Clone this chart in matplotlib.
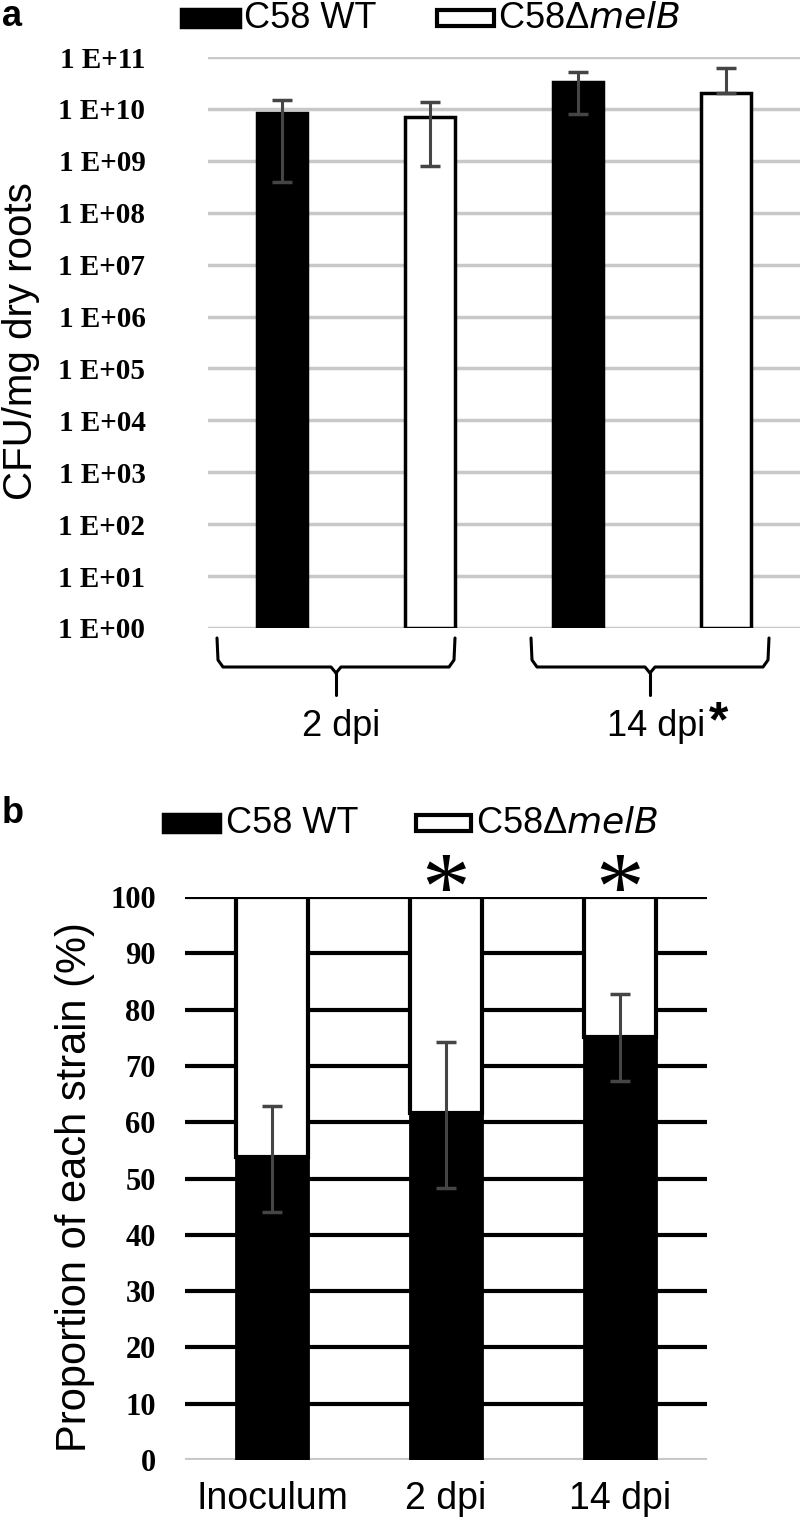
import matplotlib
matplotlib.use('Agg')
import matplotlib.pyplot as plt
import numpy as np
from matplotlib.patches import Rectangle

# panel a: CFU per mg dry roots (log scale)
a_labels = ['C58 WT', 'C58ΔmelB', 'C58 WT', 'C58ΔmelB']
a_values = [8.3e9, 6.9e9, 3.3e10, 2.0e10]
a_err_hi = [1.5e10, 1.35e10, 5.1e10, 6.2e10]
a_err_lo = [3.9e8, 7.9e8, 7.9e9, 2.0e10]
a_groups = ['2 dpi', '14 dpi']
a_yticks = [10.0 ** k for k in range(12)]
a_yticklabels = ['1 E+%02d' % k for k in range(12)]

# panel b: proportion of each strain (%)
b_cats = ['Inoculum', '2 dpi', '14 dpi']
b_wt = [53.8, 61.7, 75.2]
b_err_hi = [62.8, 74.3, 82.8]
b_err_lo = [44.1, 48.4, 67.4]
b_yticks = list(range(0, 101, 10))

W, H = 800, 1526
fig = plt.figure(figsize=(W / 100, H / 100), dpi=100)

SANS = 'Liberation Sans'
SERIF = 'Liberation Serif'


def fx(px):
    return px / W


def fy(py):
    return 1 - py / H


# ---------------- panel a ----------------
ax1 = fig.add_axes([fx(208), fy(628), fx(800 - 208), (628 - 57) / H])
ax1.set_yscale('log')
ax1.set_ylim(1, 1e11)
ax1.set_xlim(-0.5, 3.5)
x = np.arange(len(a_values))
bw = 0.34
for i in range(len(a_values)):
    fc = 'black' if i % 2 == 0 else 'white'
    ax1.bar(x[i], a_values[i], width=bw, bottom=1, color=fc,
            edgecolor='black', linewidth=2.5, zorder=3)
lo = np.array(a_values) - np.array(a_err_lo)
hi = np.array(a_err_hi) - np.array(a_values)
ax1.errorbar(x, a_values, yerr=[lo, hi], fmt='none', ecolor='#454545',
             elinewidth=2.2, capsize=7, capthick=2.5, zorder=4)
ax1.set_yticks(a_yticks)
ax1.set_yticklabels(a_yticklabels, fontfamily=SERIF, fontweight='bold', fontsize=21)
ax1.yaxis.set_minor_locator(matplotlib.ticker.NullLocator())
ax1.tick_params(axis='y', length=0, pad=45)
ax1.set_xticks([])
ax1.grid(axis='y', color='#c8c8c8', linewidth=2.5, zorder=0)
for s in ax1.spines.values():
    s.set_visible(False)
ax1.set_axisbelow(True)

fig.text(fx(21), fy(341), 'CFU/mg dry roots', rotation=90, ha='center', va='center',
         fontfamily=SANS, fontsize=29)


# brackets under the groups (drawn in figure pixels)
def bracket(x0, x1, xm, ytop=638, ymid=667, ytip=695):
    kw = dict(color='black', linewidth=2.2, solid_capstyle='round')
    for xe, sgn in [(x0, 1), (x1, -1)]:
        fig.add_artist(plt.Line2D(
            [fx(xe), fx(xe + sgn * 1), fx(xe + sgn * 6), fx(xm - sgn * 5), fx(xm)],
            [fy(ytop), fy(ymid - 7), fy(ymid), fy(ymid), fy(ymid + 6)], **kw))
    fig.add_artist(plt.Line2D([fx(xm), fx(xm)], [fy(ymid + 6), fy(ytip)], **kw))


bracket(217, 455, 336)
bracket(531, 769, 650)
fig.text(fx(341), fy(726), a_groups[0], ha='center', va='center', fontfamily=SANS, fontsize=26)
fig.text(fx(656), fy(726), a_groups[1], ha='center', va='center', fontfamily=SANS, fontsize=26)
fig.text(fx(719), fy(736), '*', ha='center', va='baseline', fontfamily=SANS,
         fontweight='bold', fontsize=36)


def legend_row(y, bx0, tx0, bx1, tx1, boxw, lab, ly):
    fig.add_artist(Rectangle((fx(bx0), fy(y + 9)), fx(boxw), 18 / H, facecolor='black',
                             edgecolor='black', linewidth=2.5))
    fig.text(fx(tx0), fy(y), 'C58 WT', ha='left', va='center', fontfamily=SANS, fontsize=26)
    fig.add_artist(Rectangle((fx(bx1), fy(y + 8)), fx(boxw - 2), 16 / H, facecolor='white',
                             edgecolor='black', linewidth=3))
    fig.text(fx(tx1), fy(y), 'C58Δ$\\mathit{melB}$', ha='left', va='center',
             fontfamily=SANS, fontsize=26)
    fig.text(fx(2), fy(ly), lab, ha='left', va='center', fontfamily=SANS,
             fontweight='bold', fontsize=26)


legend_row(18, 181, 244, 437, 498, 59, 'a', 16)

# ---------------- panel b ----------------
ax2 = fig.add_axes([fx(185), fy(1460), fx(707 - 185), (1460 - 897) / H])
xb = np.arange(len(b_cats))
bw2 = 0.41
white = [100 - v for v in b_wt]
ax2.bar(xb, b_wt, width=bw2, color='black', edgecolor='black', linewidth=2, zorder=3)
ax2.bar(xb, white, width=bw2, bottom=b_wt, color='white', edgecolor='black',
        linewidth=3, zorder=3)
lo2 = np.array(b_wt) - np.array(b_err_lo)
hi2 = np.array(b_err_hi) - np.array(b_wt)
ax2.errorbar(xb, b_wt, yerr=[lo2, hi2], fmt='none', ecolor='#454545',
             elinewidth=2.2, capsize=7, capthick=2.5, zorder=4)
ax2.set_xlim(-0.5, 2.5)
ax2.set_ylim(0, 100)
ax2.set_yticks(b_yticks)
ax2.set_yticklabels([str(v) for v in b_yticks], fontfamily=SERIF, fontweight='bold', fontsize=22)
ax2.tick_params(axis='y', length=0, pad=21)
ax2.set_xticks(xb)
ax2.set_xticklabels(b_cats, fontfamily=SANS, fontsize=27)
ax2.tick_params(axis='x', length=0, pad=15)
for s in ax2.spines.values():
    s.set_visible(False)
ax2.set_axisbelow(True)
for v in b_yticks:
    ax2.axhline(v, color='#c8c8c8' if v == 0 else 'black', linewidth=3, zorder=1)

# significance stars above 2 dpi and 14 dpi
for i in [1, 2]:
    ax2.annotate('*', (xb[i], 100), xytext=(0, -16), textcoords='offset points',
                 ha='center', va='baseline', fontfamily=SERIF, fontsize=70, zorder=5,
                 annotation_clip=False)

fig.text(fx(75), fy(1187), 'Proportion of each strain (%)', rotation=90, ha='center',
         va='center', fontfamily=SANS, fontsize=30)

legend_row(823, 163, 226, 416, 476, 57, 'b', 813)

fig.savefig('out.png', dpi=100)
